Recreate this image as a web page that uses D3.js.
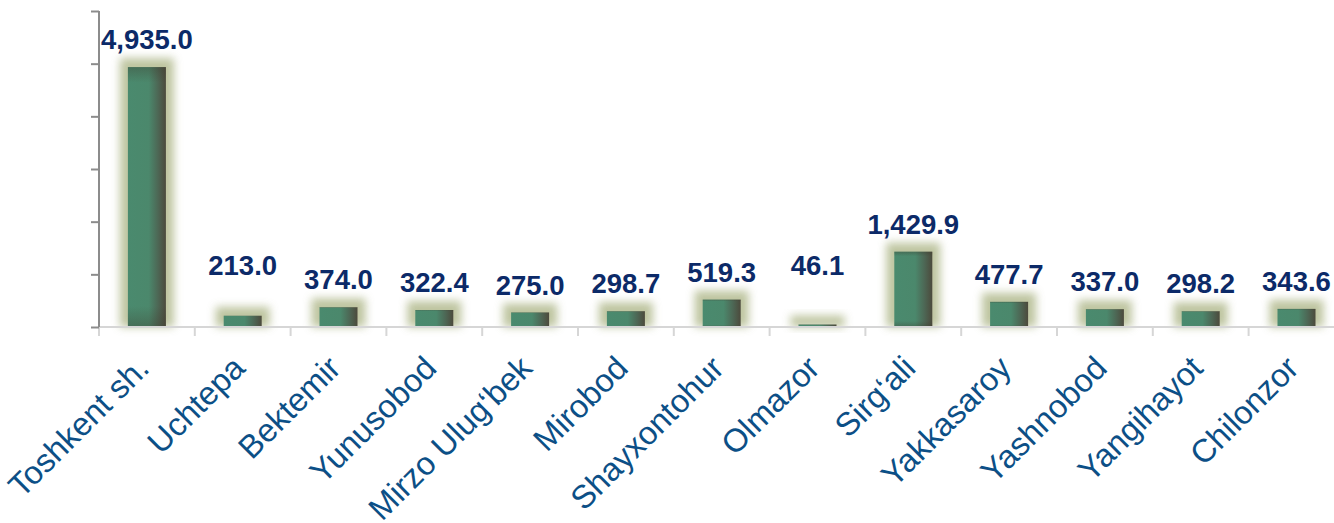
<!DOCTYPE html>
<html>
<head>
<meta charset="utf-8">
<script src="https://cdn.jsdelivr.net/npm/d3@7"></script>
<style>
  body { margin: 0; background: #fff; }
  svg { display: block; }
  .cat { font-family: "Liberation Sans", Arial, sans-serif; font-size: 32.5px; fill: #0c4f86; }
  .val { font-family: "Liberation Sans", Arial, sans-serif; font-size: 27.5px; font-weight: bold; fill: #0c2a68; }
</style>
</head>
<body>
<div id="chart"></div>
<script>
// district names and values
var districts = ["Toshkent sh.", "Uchtepa", "Bektemir", "Yunusobod", "Mirzo Ulug\u2018bek",
  "Mirobod", "Shayxontohur", "Olmazor", "Sirg\u2018ali", "Yakkasaroy", "Yashnobod",
  "Yangihayot", "Chilonzor"]
var values = [4935.0, 213.0, 374.0, 322.4, 275.0, 298.7, 519.3, 46.1, 1429.9, 477.7, 337.0, 298.2, 343.6]
var yTicks = [0, 1000, 2000, 3000, 4000, 5000, 6000]

var W = 1334, H = 523
var margin = { top: 11, left: 99, bottom: 196 }
var plotBottom = H - margin.bottom   // 327

var svg = d3.select("#chart").append("svg")
  .attr("width", W)
  .attr("height", H)

var defs = svg.append("defs")

// bar body gradient: green face, dark right side
var grad = defs.append("linearGradient").attr("id", "barGrad")
  .attr("x1", "0%").attr("x2", "100%").attr("y1", "0%").attr("y2", "0%")
grad.append("stop").attr("offset", "0%").attr("stop-color", "#4a8a6e")
grad.append("stop").attr("offset", "55%").attr("stop-color", "#4b886c")
grad.append("stop").attr("offset", "80%").attr("stop-color", "#4d6654")
grad.append("stop").attr("offset", "100%").attr("stop-color", "#4c4a3c")

var shade = defs.append("linearGradient").attr("id", "barShade")
  .attr("x1", "0%").attr("x2", "0%").attr("y1", "0%").attr("y2", "100%")
shade.append("stop").attr("offset", "0%").attr("stop-color", "#3e3a2c").attr("stop-opacity", 0.35)
shade.append("stop").attr("offset", "6%").attr("stop-color", "#3e3a2c").attr("stop-opacity", 0)
shade.append("stop").attr("offset", "92%").attr("stop-color", "#3e3a2c").attr("stop-opacity", 0)
shade.append("stop").attr("offset", "100%").attr("stop-color", "#3e3a2c").attr("stop-opacity", 0.35)

// soft glow round the bars
defs.append("filter").attr("id", "glow")
  .attr("x", "-50%").attr("y", "-50%").attr("width", "200%").attr("height", "200%")
  .append("feGaussianBlur").attr("stdDeviation", 4)

var x = d3.scaleBand()
  .domain(districts)
  .range([margin.left, margin.left + 13 * 95.8])
  .paddingInner(0).paddingOuter(0)

var y = d3.scaleLinear()
  .domain([0, 6000])
  .range([plotBottom, margin.top])

var barW = 38

// glow
svg.append("g").selectAll("rect")
  .data(values)
  .enter().append("rect")
  .attr("x", function(d, i) { return x(districts[i]) + x.bandwidth() / 2 - barW / 2 - 8 })
  .attr("y", function(d) { return y(d) - 9 })
  .attr("width", barW + 16)
  .attr("height", function(d) { return plotBottom - y(d) + 9 })
  .attr("fill", "#b3bb90")
  .attr("opacity", 0.85)
  .attr("filter", "url(#glow)")

// bars
var bars = svg.append("g")
bars.selectAll("rect.b")
  .data(values)
  .enter().append("rect")
  .attr("class", "b")
  .attr("x", function(d, i) { return x(districts[i]) + x.bandwidth() / 2 - barW / 2 })
  .attr("y", function(d) { return y(d) })
  .attr("width", barW)
  .attr("height", function(d) { return plotBottom - y(d) })
  .attr("fill", "url(#barGrad)")
bars.selectAll("rect.s")
  .data(values)
  .enter().append("rect")
  .attr("class", "s")
  .attr("x", function(d, i) { return x(districts[i]) + x.bandwidth() / 2 - barW / 2 })
  .attr("y", function(d) { return y(d) })
  .attr("width", barW)
  .attr("height", function(d) { return plotBottom - y(d) })
  .attr("fill", "url(#barShade)")

// x axis (light grey, ticks on category boundaries)
var xLine = svg.append("g")
xLine.append("line")
  .attr("x1", margin.left).attr("x2", W)
  .attr("y1", plotBottom).attr("y2", plotBottom)
  .attr("stroke", "#d6d6d6").attr("stroke-width", 2)
xLine.selectAll("line.t")
  .data(districts)
  .enter().append("line")
  .attr("class", "t")
  .attr("x1", function(d) { return x(d) }).attr("x2", function(d) { return x(d) })
  .attr("y1", plotBottom).attr("y2", plotBottom + 9)
  .attr("stroke", "#d6d6d6").attr("stroke-width", 2)

// y axis, no labels
var yAxis = svg.append("g")
  .attr("transform", "translate(" + margin.left + ",0)")
  .call(d3.axisLeft(y).tickValues(yTicks).tickSize(8).tickFormat(""))
yAxis.select(".domain").attr("stroke", "#8c8c8c").attr("stroke-width", 2)
  .attr("d", "M0," + y(6000) + "V" + plotBottom)
yAxis.selectAll(".tick line").attr("stroke", "#8c8c8c").attr("stroke-width", 2)

// value labels; very short bars get their label lifted
var fmt = d3.format(",.1f")
svg.append("g").selectAll("text")
  .data(values)
  .enter().append("text")
  .attr("class", "val")
  .attr("text-anchor", "middle")
  .attr("x", function(d, i) { return x(districts[i]) + x.bandwidth() / 2 })
  .attr("y", function(d) { return d < 250 ? 275 : y(d) - 18 })
  .text(function(d) { return fmt(d) })

// category labels, rotated
svg.append("g").selectAll("text")
  .data(districts)
  .enter().append("text")
  .attr("class", "cat")
  .attr("text-anchor", "end")
  .attr("transform", function(d) {
    return "translate(" + (x(d) + x.bandwidth() / 2 + 4) + "," + 370 + ") rotate(-45)"
  })
  .text(function(d) { return d })
</script>
</body>
</html>
